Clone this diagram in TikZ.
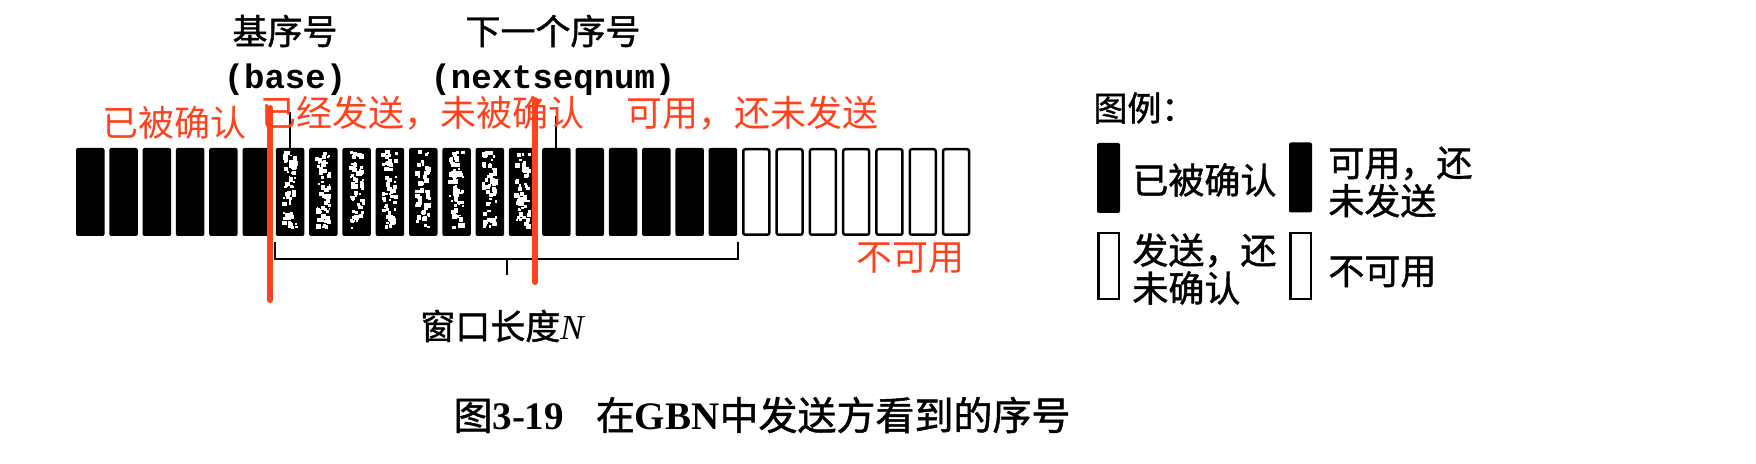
\documentclass[tikz,border=0pt]{standalone}
\usepackage{fontspec}
\newfontfamily\cjk{Noto Sans CJK SC}
\newfontfamily\cjkm[FakeBold=1.2]{Noto Sans CJK SC}
\newfontfamily\mono{Liberation Mono}
\newfontfamily\tnr{Liberation Serif}
\usetikzlibrary{calc}
\definecolor{annot}{RGB}{255,66,30}
\tikzset{
  cell/.style={rectangle, inner sep=0pt, minimum width=14.25pt, minimum height=44pt, rounded corners=1pt},
  fullcell/.style={cell, fill=black},
  freecell/.style={cell, draw=black, fill=white, line width=1.25pt, minimum width=13pt, minimum height=42.75pt},
  ptr/.style={draw=black, line width=1pt},
  brk/.style={draw=black, line width=1pt},
  redline/.style={draw=annot, line width=3pt, line cap=round},
  redtxt/.style={text=annot, inner sep=0pt, font=\cjk\fontsize{18pt}{20pt}\selectfont},
  blk/.style={text=black, inner sep=0pt, font=\cjkm\fontsize{17.5pt}{20pt}\selectfont},
  monotxt/.style={inner sep=0pt, font=\mono\bfseries\fontsize{17pt}{20pt}\selectfont},
  legfull/.style={rectangle, inner sep=0pt, minimum width=11.5pt, minimum height=35pt, fill=black, rounded corners=1pt},
  legfree/.style={rectangle, inner sep=0pt, draw=black, line width=1.25pt, minimum width=10.25pt, minimum height=33pt},
  legtxt/.style={anchor=west, inner sep=0pt, align=left, font=\cjkm\fontsize{18pt}{19pt}\selectfont},
}
\begin{document}
\begin{tikzpicture}[x=0.5pt, y=-0.5pt]
\useasboundingbox (0,0) rectangle (1756,464);
% sequence-number cells
\foreach \i in {0,...,26} {
  \pgfmathsetmacro\bx{90.25+33.3*\i}
  \ifnum\i<20
    \node[fullcell] (b\i) at (\bx,192) {};
  \else
    \node[freecell] (b\i) at (\bx,192) {};
  \fi
}
% speckles on sent-but-unacknowledged cells
\pgfmathsetseed{17}
\foreach \i in {6,...,13} {
  \foreach \j in {1,...,60} {
    \pgfmathsetmacro\sx{90.25+33.3*\i+6.5*rand}
    \pgfmathsetmacro\sy{190+38*rand}
    \pgfmathsetmacro\ss{0.8+1.6*rnd}
    \fill[white] (\sx-\ss,\sy-\ss) rectangle (\sx+\ss,\sy+\ss);
  }
}
% top labels
\node[blk] (baseCn) at (285,31) {基序号};
\node[monotxt] (baseLbl) at (285,80) {(base)};
\node[blk] (nextCn) at (553,31) {下一个序号};
\node[monotxt] (nextLbl) at (553,80) {(nextseqnum)};
\draw[ptr, shorten >=8pt] (b6.north) -- (b6.north |- baseLbl.south);
\draw[ptr, shorten >=10pt] (b14.north) -- (b14.north |- nextLbl.south);
% window bracket
\coordinate (wl) at ($(b6.south west)+(0,6)$);
\coordinate (wr) at ($(b19.south east)+(0,6)$);
\draw[brk] (wl) -- ($(wl)+(0,17)$) -- ($(wr)+(0,17)$) -- (wr);
\coordinate (wm) at ($(wl)!0.5!(wr)+(0,17)$);
\draw[brk] (wm) -- ($(wm)+(0,16)$);
\node[blk] (winLbl) at (502,326) {窗口长度{\tnr\itshape N}};
% legend
\node[anchor=west, inner sep=0pt, font=\cjkm\fontsize{17pt}{20pt}\selectfont] (legT) at (1093,108) {图例：};
\node[legfull] (lg1) at (1108.5,178) {};
\node[legtxt] (lt1) at (1132,180) {已被确认};
\node[legfull] (lg2) at (1300.5,177.5) {};
\node[legtxt] (lt2) at (1328,182) {可用，还\\未发送};
\node[legfree] (lg3) at (1108.5,266) {};
\node[legtxt] (lt3) at (1132,269) {发送，还\\未确认};
\node[legfree] (lg4) at (1300.5,266) {};
\node[legtxt] (lt4) at (1328,272) {不可用};
% caption
\node[inner sep=0pt, font=\fontsize{19.5pt}{21pt}\selectfont] (cap) at (762,415)
  {{\cjkm 图}{\tnr\bfseries 3-19}\hspace{16pt}{\cjkm 在}{\tnr\bfseries GBN}{\cjkm 中发送方看到的序号}};
% red annotations
\node[redtxt] (r1) at (174,123) {已被确认};
\node[redtxt] (r2) at (422,113) {已经发送，未被确认};
\node[redtxt] (r3) at (752,113) {可用，还未发送};
\node[redtxt] (r4) at (910,258) {不可用};
\coordinate (rl1t) at (270,108);
\coordinate (rl1b) at (270,300);
\coordinate (rl2t) at (535,100);
\coordinate (rl2b) at (535,282);
\draw[redline] (rl1t) -- (rl1b);
\draw[redline] (rl2t) -- (rl2b);
\end{tikzpicture}
\end{document}
